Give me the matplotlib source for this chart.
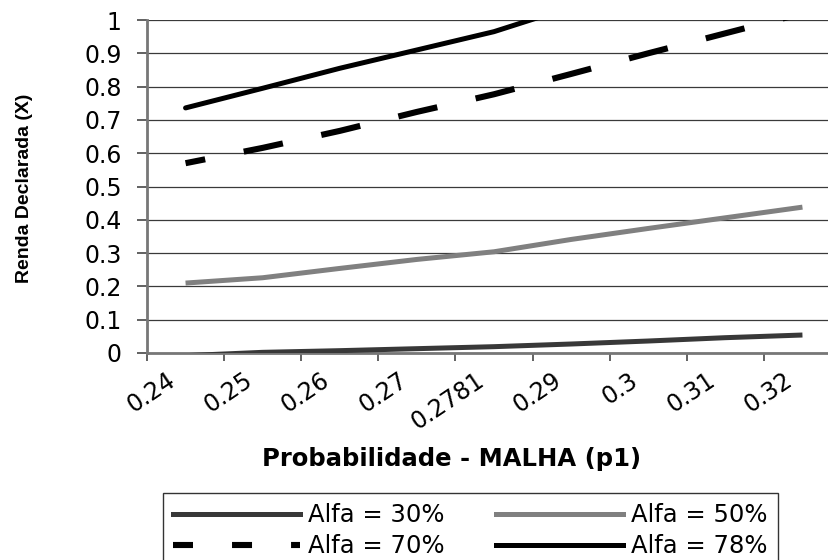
import numpy as np
import matplotlib
matplotlib.use("Agg")
import matplotlib.pyplot as plt
from matplotlib.lines import Line2D
from matplotlib.transforms import ScaledTranslation

plt.rcParams['lines.scale_dashes'] = False
plt.rcParams['font.family'] = ['DejaVu Sans']

categories = ['0.24', '0.25', '0.26', '0.27', '0.2781', '0.29', '0.3', '0.31', '0.32']
alfa30 = [-0.008, 0.002, 0.007, 0.013, 0.019, 0.027, 0.036, 0.046, 0.054]
alfa50 = [0.21, 0.226, 0.254, 0.281, 0.304, 0.341, 0.374, 0.406, 0.438]
alfa70 = [0.57, 0.616, 0.667, 0.724, 0.777, 0.838, 0.90, 0.96, 1.02]
alfa78 = [0.736, 0.795, 0.855, 0.91, 0.965, 1.039, 1.11, 1.18, 1.25]
yticks = [0, 0.1, 0.2, 0.3, 0.4, 0.5, 0.6, 0.7, 0.8, 0.9, 1]
series_labels = ['Alfa = 30%', 'Alfa = 50%', 'Alfa = 70%', 'Alfa = 78%']

W, H = 829, 560
fig = plt.figure(figsize=(W / 100, H / 100), dpi=100)
ax = fig.add_axes([147 / W, (H - 353) / H, 694 / W, 333 / H])

n = len(categories)
x = np.arange(n) + 0.5

lw = 3.6
c30, c50 = '#383838', '#808080'
dash70 = (14.4, (28.8, 28.3))
ax.plot(x, alfa30, color=c30, lw=lw, solid_capstyle='butt', zorder=3)
ax.plot(x, alfa50, color=c50, lw=lw, solid_capstyle='butt', zorder=3)
ax.plot(x, alfa70, color='black', lw=4.4, linestyle=dash70,
        dash_capstyle='butt', zorder=3)
ax.plot(x, alfa78, color='black', lw=lw, solid_capstyle='round', zorder=3)

ax.set_xlim(0, n)
ax.set_ylim(0, 1)
ax.set_yticks(yticks)
ax.set_yticklabels([f'{v:g}' for v in yticks])
ax.yaxis.grid(True, color='#3a3a3a', lw=0.9)
ax.set_axisbelow(True)

ax.set_xticks(np.arange(n + 1))
ax.set_xticklabels([])
ax.set_xticks(x, minor=True)
ax.set_xticklabels(categories, minor=True, rotation=34, ha='right', va='top',
                   rotation_mode='anchor', fontsize=17)
ax.tick_params(axis='x', which='minor', length=0, pad=11)
ax.tick_params(axis='x', which='major', length=6, width=1.3, color='#555555', direction='out')
ax.tick_params(axis='y', length=7.2, width=1.3, color='#555555', direction='out',
               labelsize=17, pad=11)
shift = ScaledTranslation(-0.19, 0, fig.dpi_scale_trans)
for lab in ax.get_xticklabels(minor=True):
    lab.set_transform(lab.get_transform() + shift)

for s in ['top', 'right']:
    ax.spines[s].set_visible(False)
for s in ['left', 'bottom']:
    ax.spines[s].set_color('#777777')
    ax.spines[s].set_linewidth(2.0)

fig.text(25 / W, 1 - 188 / H, 'Renda Declarada (X)', rotation=90, ha='center', va='center',
         family=['Liberation Sans'], fontweight='bold', fontsize=14)

fig.text(452 / W, 1 - 459 / H, 'Probabilidade - MALHA (p1)', ha='center', va='center',
         fontsize=17.5, fontweight='bold')

h30 = Line2D([], [], color=c30, lw=lw)
h50 = Line2D([], [], color=c50, lw=lw)
h70 = Line2D([], [], color='black', lw=4.4, linestyle=(0, (14.4, 28.1)), dash_capstyle='butt')
h78 = Line2D([], [], color='black', lw=lw)
# ncol=2 fills column by column: order so rows read 30/50 then 70/78
leg = fig.legend([h30, h70, h50, h78],
                 [series_labels[0], series_labels[2], series_labels[1], series_labels[3]],
                 ncol=2, loc='upper left',
                 bbox_to_anchor=(163 / W, 1 - 493 / H), borderaxespad=0,
                 fontsize=17.5, handlelength=127 / 24.3, handletextpad=0.33,
                 columnspacing=2.1, labelspacing=0.28, borderpad=0.42,
                 fancybox=False, frameon=True)
leg.get_frame().set_edgecolor('black')
leg.get_frame().set_linewidth(1.0)

fig.savefig('out.png', dpi=100)
